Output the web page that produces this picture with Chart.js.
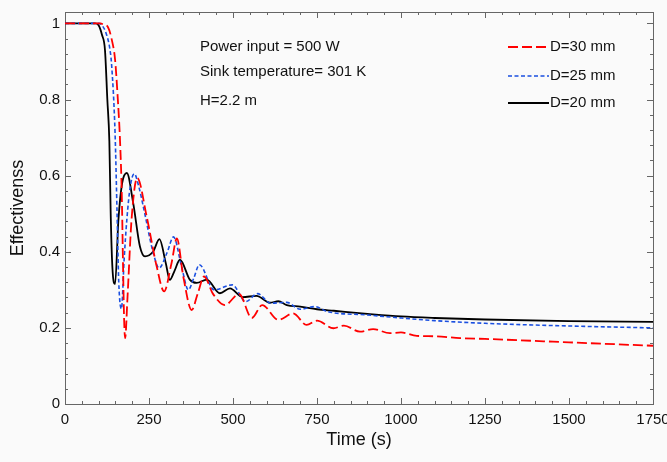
<!DOCTYPE html>
<html>
<head>
<meta charset="utf-8">
<script src="https://cdn.jsdelivr.net/npm/chart.js@4/dist/chart.umd.min.js"></script>
<style>
  body { margin: 0; background: #fafafa; }
  #wrap { width: 667px; height: 462px; }
</style>
</head>
<body>
<div id="wrap"><canvas id="chart" width="667" height="462"></canvas></div>
<script>
// values (time in s, effectiveness)
const timeD30 = [0, 105, 115, 128, 139, 149, 156, 164, 169, 173, 176, 179, 186, 198, 215, 243, 273, 295, 317, 333, 352, 377, 395, 414, 440, 476, 518, 556, 587, 635, 679, 719, 750, 799, 830, 878, 917, 967, 1000, 1047, 1100, 1176, 1250, 1500, 1750];
const effD30 = [1, 1, 0.997, 0.99, 0.958, 0.905, 0.818, 0.687, 0.55, 0.35, 0.22, 0.173, 0.28, 0.484, 0.594, 0.493, 0.361, 0.296, 0.37, 0.435, 0.335, 0.247, 0.29, 0.335, 0.29, 0.26, 0.289, 0.226, 0.26, 0.221, 0.238, 0.208, 0.219, 0.199, 0.206, 0.19, 0.197, 0.186, 0.188, 0.179, 0.178, 0.173, 0.171, 0.162, 0.153];

const timeD25 = [0, 100, 110, 122, 134, 139, 149, 155, 160, 168, 176, 184, 194, 206, 220, 233, 263, 280, 303, 323, 347, 367, 383, 400, 444, 498, 538, 573, 612, 660, 700, 744, 780, 900, 1000, 1100, 1250, 1500, 1750];
const effD25 = [1, 1, 0.995, 0.975, 0.93, 0.888, 0.712, 0.5, 0.32, 0.25, 0.38, 0.484, 0.57, 0.605, 0.57, 0.519, 0.396, 0.357, 0.396, 0.439, 0.361, 0.3, 0.33, 0.366, 0.3, 0.313, 0.269, 0.29, 0.265, 0.267, 0.249, 0.256, 0.243, 0.234, 0.226, 0.219, 0.212, 0.205, 0.2];

const timeD20 = [0, 90, 100, 110, 119, 126, 132, 136, 141, 149, 159, 170, 184, 203, 223, 238, 262, 281, 300, 312, 326, 342, 372, 392, 422, 461, 491, 528, 570, 610, 635, 660, 700, 750, 800, 900, 1000, 1100, 1250, 1500, 1750];
const effD20 = [1, 1, 0.995, 0.97, 0.93, 0.8, 0.69, 0.5, 0.36, 0.315, 0.484, 0.58, 0.607, 0.528, 0.414, 0.388, 0.4, 0.433, 0.37, 0.326, 0.35, 0.379, 0.326, 0.318, 0.327, 0.291, 0.304, 0.281, 0.284, 0.266, 0.27, 0.26, 0.256, 0.249, 0.245, 0.237, 0.23, 0.226, 0.222, 0.218, 0.216];

const seriesLabels = ['D=30 mm', 'D=25 mm', 'D=20 mm'];
const xTickValues = [0, 250, 500, 750, 1000, 1250, 1500, 1750];
const yTickValues = [0, 0.2, 0.4, 0.6, 0.8, 1];
const notes = ['Power input = 500 W', 'Sink temperature= 301 K', 'H=2.2 m'];

const xMax = 1750, yMax = 1.03;
const FONT = '"Liberation Sans", Arial, sans-serif';

function pts(ts, vs) {
  return ts.map((t, i) => ({ x: t, y: vs[i] }));
}

const styles = [
  { color: '#ff0000', dash: [10, 4], width: 1.8 },
  { color: '#1a4fe0', dash: [4, 2.5], width: 1.6 },
  { color: '#000000', dash: [], width: 1.8 }
];
const seriesData = [pts(timeD30, effD30), pts(timeD25, effD25), pts(timeD20, effD20)];

// frame with inward ticks on all four sides
const frameTicks = {
  id: 'frameTicks',
  beforeDatasetsDraw(chart) {
    const { ctx, chartArea: a, scales: { x, y } } = chart;
    ctx.save();
    ctx.strokeStyle = '#666';
    ctx.lineWidth = 1;
    ctx.strokeRect(a.left + 0.5, a.top + 0.5, a.right - a.left, a.bottom - a.top);
    ctx.beginPath();
    for (let i = 0; i * 50 <= xMax; i++) {
      const px = Math.round(x.getPixelForValue(i * 50)) + 0.5;
      const len = i % 5 === 0 ? 6 : 3;
      ctx.moveTo(px, a.bottom); ctx.lineTo(px, a.bottom - len);
      ctx.moveTo(px, a.top); ctx.lineTo(px, a.top + len);
    }
    for (let i = 0; i * 0.04 <= yMax; i++) {
      const py = Math.round(y.getPixelForValue(i * 0.04)) + 0.5;
      const len = i % 5 === 0 ? 6 : 3;
      ctx.moveTo(a.left, py); ctx.lineTo(a.left + len, py);
      ctx.moveTo(a.right, py); ctx.lineTo(a.right - len, py);
    }
    ctx.stroke();
    ctx.restore();
  }
};

// text notes and legend inside the plot
const notesLegend = {
  id: 'notesLegend',
  afterDraw(chart) {
    const ctx = chart.ctx;
    ctx.save();
    ctx.font = '15px ' + FONT;
    ctx.fillStyle = '#111';
    ctx.textBaseline = 'middle';
    ctx.textAlign = 'left';
    const noteY = [47, 72, 101];
    notes.forEach((n, i) => ctx.fillText(n, 200, noteY[i]));

    const legY = [47, 76, 103];
    seriesLabels.forEach((lab, i) => {
      const s = styles[i];
      ctx.strokeStyle = s.color;
      ctx.lineWidth = s.width;
      ctx.setLineDash(s.dash);
      ctx.beginPath();
      ctx.moveTo(508, legY[i]);
      ctx.lineTo(549, legY[i]);
      ctx.stroke();
      ctx.setLineDash([]);
      ctx.fillText(lab, 550, legY[i]);
    });
    ctx.restore();
  }
};

new Chart(document.getElementById('chart'), {
  type: 'line',
  data: {
    datasets: seriesLabels.map((lab, i) => ({
      label: lab,
      data: seriesData[i],
      borderColor: styles[i].color,
      borderDash: styles[i].dash,
      borderWidth: styles[i].width,
      pointRadius: 0,
      fill: false,
      cubicInterpolationMode: 'monotone'
    }))
  },
  options: {
    responsive: false,
    animation: false,
    layout: { padding: { left: 0, right: 14, top: 12, bottom: 0 } },
    plugins: { legend: { display: false }, tooltip: { enabled: false } },
    scales: {
      x: {
        type: 'linear',
        min: 0,
        max: xMax,
        afterBuildTicks: s => { s.ticks = xTickValues.map(v => ({ value: v })); },
        afterFit: s => { s.height = 58; s.paddingLeft = 0; s.paddingRight = 0; },
        grid: { display: false, drawTicks: false },
        border: { display: false },
        ticks: { color: '#111', padding: 7, maxRotation: 0, autoSkip: false, font: { size: 15, family: FONT }, callback: v => String(v) },
        title: { display: true, text: 'Time (s)', color: '#111', padding: { top: 0, bottom: 11 }, font: { size: 18, family: FONT } }
      },
      y: {
        min: 0,
        max: yMax,
        afterBuildTicks: s => { s.ticks = yTickValues.map(v => ({ value: v })); },
        afterFit: s => { s.width = 65; s.paddingTop = 0; s.paddingBottom = 0; },
        grid: { display: false, drawTicks: false },
        border: { display: false },
        ticks: { color: '#111', padding: 5, font: { size: 15, family: FONT }, callback: v => String(v) },
        title: { display: true, text: 'Effectivenss', color: '#111', padding: { top: 7, bottom: 0 }, font: { size: 18, family: FONT } }
      }
    }
  },
  plugins: [frameTicks, notesLegend]
});
</script>
</body>
</html>
